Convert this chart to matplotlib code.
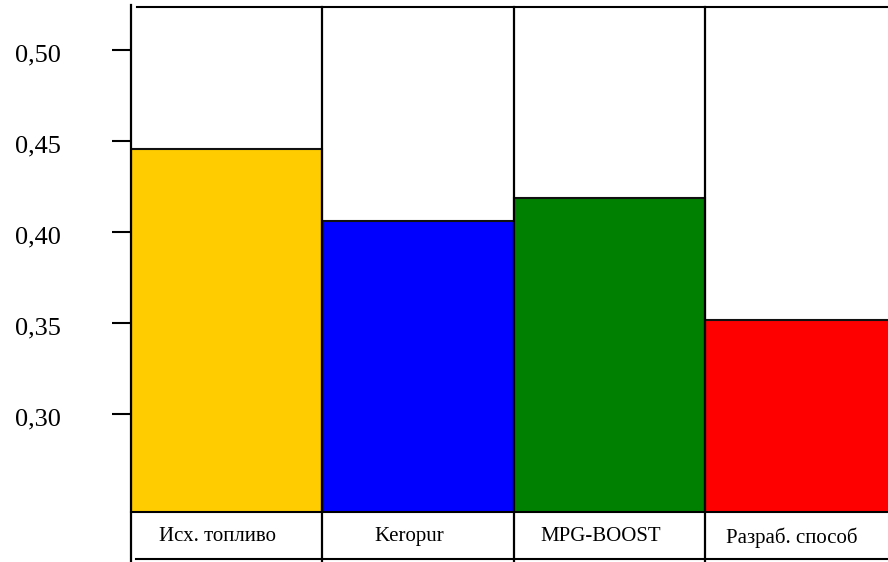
import matplotlib
matplotlib.use("Agg")
import matplotlib.pyplot as plt
from matplotlib.lines import Line2D
from matplotlib.transforms import ScaledTranslation

# Data
categories = ["Исх. топливо", "Keropur", "MPG-BOOST", "Разраб. способ"]
values = [0.446, 0.406, 0.419, 0.352]
colors = ["#FFCC00", "#0000FF", "#008000", "#FF0000"]
ytick_values = [0.30, 0.35, 0.40, 0.45, 0.50]
ytick_labels = ["0,30", "0,35", "0,40", "0,45", "0,50"]

plt.rcParams["font.family"] = ["Liberation Serif", "DejaVu Serif"]

W, H = 888, 562
fig = plt.figure(figsize=(W / 100, H / 100), dpi=100)
ax = fig.add_axes([131 / W, 1 - 512 / H, 757 / W, 505 / H])

x = list(range(len(categories)))
ax.bar(x, values, width=1.0, color=colors, edgecolor="#111111", linewidth=1.5,
       zorder=2)

ax.set_xlim(-0.5, 3.457)
ax.set_ylim(0.2464, 0.5238)

# Y axis: ticks pointing outward, comma decimals
ax.set_yticks(ytick_values)
ax.set_yticklabels(ytick_labels)
ax.tick_params(axis="y", direction="out", length=13.5, width=1.5, pad=37,
               labelsize=19, colors="black")
yshift = ScaledTranslation(0, -3 / 100, fig.dpi_scale_trans)
for lbl in ax.get_yticklabels():
    lbl.set_transform(lbl.get_transform() + yshift)

# X axis: category names under each bar, no tick marks
ax.set_xticks(x)
ax.set_xticklabels(categories)
ax.tick_params(axis="x", length=0, pad=11, labelsize=15)
shift = ScaledTranslation(-9 / 100, 0, fig.dpi_scale_trans)
for lbl in ax.get_xticklabels():
    lbl.set_transform(lbl.get_transform() + shift)

# Frame: top and bottom lines, left axis running down through the label row
for side in ("right", "left", "top"):
    ax.spines[side].set_visible(False)
ax.spines["bottom"].set_linewidth(1.5)

ax.add_line(Line2D([0.008, 1], [1, 1], transform=ax.transAxes,
                   color="black", linewidth=1.5, clip_on=False, zorder=3))

low = -50 / 505
ax.add_line(Line2D([0, 0], [low, 1.004], transform=ax.transAxes,
                   color="black", linewidth=1.6, clip_on=False, zorder=3))
ax.add_line(Line2D([0.007, 1], [-47 / 505, -47 / 505], transform=ax.transAxes,
                   color="black", linewidth=1.5, clip_on=False, zorder=3))

# Separators between categories, full height including the label row
for b in [0.5, 1.5, 2.5]:
    ax.plot([b, b], [low, 1], transform=ax.get_xaxis_transform(),
            color="black", linewidth=1.6, clip_on=False, zorder=3)

fig.savefig("out.png", dpi=100)
